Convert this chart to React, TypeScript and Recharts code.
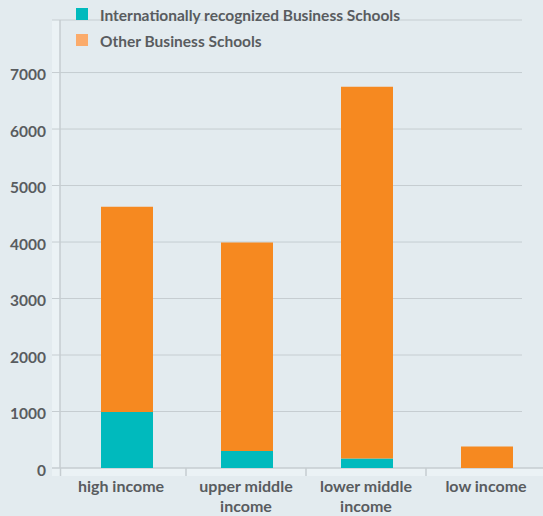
import React from "react";
import { BarChart, Bar, XAxis, YAxis, CartesianGrid, Text } from "recharts";

const categories = ["high income", "upper middle income", "lower middle income", "low income"];
const recognizedSchools = [990, 300, 170, 0];
const otherSchools = [3636, 3690, 6580, 380];
const yTicks = [0, 1000, 2000, 3000, 4000, 5000, 6000, 7000];

const seriesNames = ["Internationally recognized Business Schools", "Other Business Schools"];
const barColors = ["#00babd", "#f68920"];
const legendColors = ["#00babd", "#fbab6b"];

const data = categories.map((c, i) => ({
  name: c,
  recognized: recognizedSchools[i],
  other: otherSchools[i],
}));

const FONT = "Lato, 'Noto Sans', sans-serif";
const TEXT_COLOR = "#595c5f";
const BG = "#e3ebef";
const STRIP = "#ebf2f5";
const LINE = "#c6cdd1";

const XTick = (props: any) => {
  const { x, y, payload, index } = props;
  const lx = index === 0 ? 60.5 : x - 61;
  return (
    <g>
      <line x1={lx} x2={lx} y1={468} y2={476} stroke={LINE} strokeWidth={1.5} />
      <Text
        x={index === 0 ? x - 6 : x - 1}
        y={y}
        width={118}
        textAnchor="middle"
        verticalAnchor="start"
        lineHeight={20}
        fill={TEXT_COLOR}
        fontSize={16}
        fontWeight={700}
        fontFamily={FONT}
        style={{ fontSize: 16, fontWeight: 700, fontFamily: FONT }}
      >
        {payload.value}
      </Text>
    </g>
  );
};

const gridLine = (props: any) => {
  const { y1, index } = props;
  const isZero = Math.abs(y1 - 468) < 2;
  return (
    <line
      key={`g-${index}-${y1}`}
      x1={52}
      x2={isZero ? 547 : 522}
      y1={y1}
      y2={y1}
      stroke={LINE}
      strokeWidth={isZero ? 1.5 : 1}
    />
  );
};

export default function App() {
  return (
    <div
      style={{
        position: "fixed",
        left: 0,
        top: 0,
        width: 543,
        height: 516,
        overflow: "hidden",
        background: BG,
        fontFamily: FONT,
      }}
    >
      <div style={{ position: "absolute", left: 52, top: 20, width: 8, height: 456, background: STRIP }} />
      <div style={{ position: "absolute", left: 52, top: 468, width: 491, height: 8, background: STRIP }} />
      <div style={{ position: "absolute", left: 76, top: 8, zIndex: 2 }}>
        {seriesNames.map((n, i) => (
          <div key={n} style={{ position: "relative", height: 12, marginBottom: 14 }}>
            <div style={{ position: "absolute", left: 0, top: 0, width: 12, height: 12, background: legendColors[i] }} />
            <span
              style={{
                position: "absolute",
                left: 24,
                top: -4,
                fontSize: 15.5,
                fontWeight: 700,
                color: TEXT_COLOR,
                whiteSpace: "nowrap",
                lineHeight: "22px",
              }}
            >
              {n}
            </span>
          </div>
        ))}
      </div>
      <div style={{ position: "absolute", left: 0, top: 0, width: 547, height: 516 }}>
        <BarChart
          width={547}
          height={516}
          data={data}
          margin={{ top: 20, right: 0, bottom: 0, left: 0 }}
          barSize={52}
        >
          <CartesianGrid vertical={false} horizontal={gridLine} />
          <YAxis
            domain={[0, 7930]}
            ticks={yTicks}
            width={60}
            tickLine={false}
            tickSize={0}
            tickMargin={14}
            axisLine={{ stroke: LINE, strokeWidth: 1.5 }}
            interval={0}
            tick={{ fill: TEXT_COLOR, fontSize: 15.5, fontWeight: 700, fontFamily: FONT, dy: 2 }}
          />
          <XAxis
            dataKey="name"
            height={48}
            axisLine={false}
            tickLine={false}
            tickSize={0}
            tickMargin={13}
            interval={0}
            padding={{ left: 7, right: 0 }}
            tick={<XTick />}
          />
          <Bar dataKey="recognized" stackId="a" fill={barColors[0]} isAnimationActive={false} name={seriesNames[0]} />
          <Bar dataKey="other" stackId="a" fill={barColors[1]} isAnimationActive={false} name={seriesNames[1]} />
        </BarChart>
      </div>
    </div>
  );
}
